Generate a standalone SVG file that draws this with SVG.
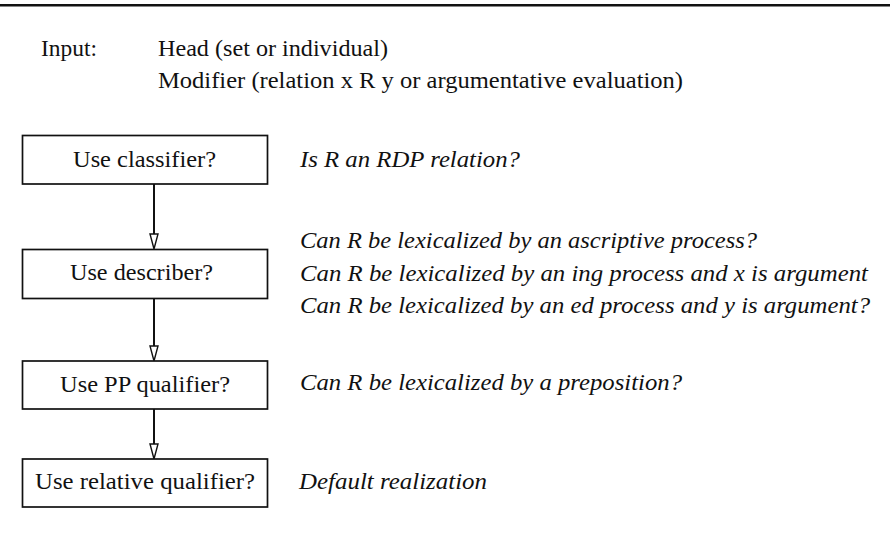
<svg xmlns="http://www.w3.org/2000/svg" width="890" height="550" viewBox="0 0 890 550">
<style>
  text { font-family: "Liberation Serif", "Times New Roman", serif; font-size: 23.5px; fill: #111; }
  .it { font-style: italic; }
  .box { fill: #fff; stroke: #111; stroke-width: 1.7; }
  .shaft { stroke: #111; stroke-width: 2; fill: none; }
  .head { fill: #fff; stroke: #111; stroke-width: 1.4; stroke-linejoin: miter; }
</style>
<rect width="890" height="550" fill="#fff"/>
<line x1="0" y1="5.3" x2="890" y2="5.3" stroke="#111" stroke-width="2.6"/>

<g id="input">
  <text x="41" y="56" textLength="56" lengthAdjust="spacingAndGlyphs">Input:</text>
  <text x="158" y="56" textLength="230" lengthAdjust="spacingAndGlyphs">Head (set or individual)</text>
  <text x="158" y="88" textLength="525" lengthAdjust="spacingAndGlyphs">Modifier (relation x R y or argumentative evaluation)</text>
</g>

<g id="connectors">
  <line class="shaft" x1="154" y1="184" x2="154" y2="248"/>
  <polygon class="head" points="150,234 158,234 154,249"/>
  <line class="shaft" x1="154" y1="299" x2="154" y2="360"/>
  <polygon class="head" points="150,346 158,346 154,361"/>
  <line class="shaft" x1="154" y1="409" x2="154" y2="458"/>
  <polygon class="head" points="150,444 158,444 154,459"/>
</g>

<g id="node-classifier">
  <rect class="box" x="22.5" y="135.5" width="245" height="48.5"/>
  <text x="73" y="167" textLength="143" lengthAdjust="spacingAndGlyphs">Use classifier?</text>
</g>
<g id="node-describer">
  <rect class="box" x="22.5" y="249.5" width="245" height="49"/>
  <text x="70" y="280" textLength="143" lengthAdjust="spacingAndGlyphs">Use describer?</text>
</g>
<g id="node-pp">
  <rect class="box" x="22.5" y="361" width="245" height="48"/>
  <text x="60" y="392" textLength="170" lengthAdjust="spacingAndGlyphs">Use PP qualifier?</text>
</g>
<g id="node-relative">
  <rect class="box" x="22.5" y="459" width="245" height="48"/>
  <text x="35" y="489" textLength="220" lengthAdjust="spacingAndGlyphs">Use relative qualifier?</text>
</g>

<g id="conditions">
  <text class="it" x="300" y="167" textLength="220" lengthAdjust="spacingAndGlyphs">Is R an RDP relation?</text>
  <text class="it" x="300" y="248" textLength="457" lengthAdjust="spacingAndGlyphs">Can R be lexicalized by an ascriptive process?</text>
  <text class="it" x="300" y="281" textLength="568" lengthAdjust="spacingAndGlyphs">Can R be lexicalized by an ing process and x is argument</text>
  <text class="it" x="300" y="313" textLength="570" lengthAdjust="spacingAndGlyphs">Can R be lexicalized by an ed process and y is argument?</text>
  <text class="it" x="300" y="390" textLength="382" lengthAdjust="spacingAndGlyphs">Can R be lexicalized by a preposition?</text>
  <text class="it" x="299" y="489" textLength="188" lengthAdjust="spacingAndGlyphs">Default realization</text>
</g>
</svg>
